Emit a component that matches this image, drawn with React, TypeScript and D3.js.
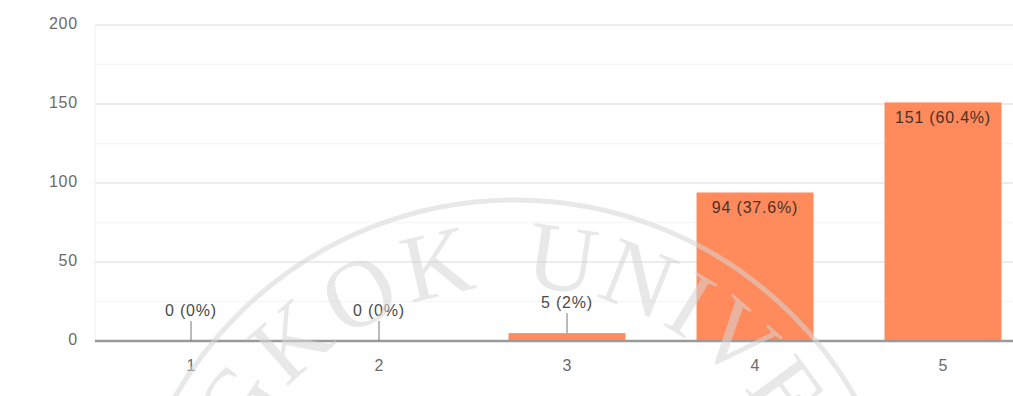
import React from "react";
import * as d3 from "d3";

// Response counts for a 1–5 rating question
const categories = ["1", "2", "3", "4", "5"];
const counts = [0, 0, 5, 94, 151];
const percentLabels = ["0%", "0%", "2%", "37.6%", "60.4%"];
const yTicks = [0, 50, 100, 150, 200];
const yMinorTicks = [25, 75, 125, 175];

const W = 1013;
const H = 396;
const FONT = "'Liberation Sans', Arial, sans-serif";
const BAR_COLOR = "#ff8a5c";

export default function App() {
  const x = d3
    .scaleBand<string>()
    .domain(categories)
    .range([97, 1037])
    .paddingInner(0.378)
    .paddingOuter(0.189);
  const y = d3.scaleLinear().domain([0, 200]).range([341, 25]);

  // watermark seal geometry
  const cx = 515;
  const cy = 592;
  const ringR = 392;
  const textR = 305;
  const wmSize = 96;
  const a0 = (-135 * Math.PI) / 180;
  const a1 = (135 * Math.PI) / 180;
  const pt = (r: number, a: number) => [cx + r * Math.sin(a), cy - r * Math.cos(a)];
  const [sx, sy] = pt(textR, a0);
  const [ex, ey] = pt(textR, a1);
  const arcPath = `M${sx},${sy} A${textR},${textR} 0 1 1 ${ex},${ey}`;
  const topOffset = (textR * 135 * Math.PI) / 180;
  const deg = (d: number) => (textR * d * Math.PI) / 180;

  const outerLabel = 20;

  return (
    <svg
      width={W}
      height={H}
      viewBox={`0 0 ${W} ${H}`}
      style={{ position: "absolute", left: 0, top: 0, background: "#fff" }}
    >
      <defs>
        <path id="wm-arc" d={arcPath} />
      </defs>
      <rect x={0} y={0} width={W} height={H} fill="#fff" />

      {/* left plot edge */}
      <line x1={95} x2={95} y1={y(200)} y2={y(0)} stroke="#f5f5f5" strokeWidth={1.5} />

      {/* minor gridlines */}
      {yMinorTicks.map((t) => (
        <line key={"m" + t} x1={95} x2={W} y1={y(t)} y2={y(t)} stroke="#f6f6f6" strokeWidth={1.5} />
      ))}
      {/* major gridlines */}
      {yTicks.filter((t) => t > 0).map((t) => (
        <line key={"g" + t} x1={95} x2={W} y1={y(t)} y2={y(t)} stroke="#ececec" strokeWidth={2} />
      ))}

      {/* y-axis labels */}
      {yTicks.map((t) => (
        <text
          key={"y" + t}
          x={78}
          y={y(t)}
          textAnchor="end"
          dominantBaseline="middle"
          fontFamily={FONT}
          fontSize={16}
          letterSpacing={0.8}
          fill="#6b6b6b"
        >
          {t}
        </text>
      ))}

      {/* bars */}
      {counts.map((v, i) => (
        <rect
          key={"b" + i}
          x={x(categories[i])!}
          y={y(v)}
          width={x.bandwidth()}
          height={y(0) - y(v)}
          fill={BAR_COLOR}
        />
      ))}

      {/* baseline */}
      <line x1={95} x2={W} y1={y(0)} y2={y(0)} stroke="#9a9a9a" strokeWidth={2.5} />

      {/* value labels */}
      {counts.map((v, i) => {
        const c = x(categories[i])! + x.bandwidth() / 2;
        const label = `${v} (${percentLabels[i]})`;
        const inside = y(0) - y(v) > 40;
        if (inside) {
          return (
            <text
              key={"l" + i}
              x={c}
              y={y(v) + 21}
              textAnchor="middle"
              fontFamily={FONT}
              fontSize={16}
              letterSpacing={0.8}
              fill="#4a3128"
            >
              {label}
            </text>
          );
        }
        const top = y(v);
        return (
          <g key={"l" + i}>
            <line x1={c} x2={c} y1={top - outerLabel} y2={top} stroke="#777" strokeWidth={1} />
            <text
              x={c}
              y={top - outerLabel - 5}
              textAnchor="middle"
              fontFamily={FONT}
              fontSize={16}
              letterSpacing={0.8}
              fill="#4a4a4a"
            >
              {label}
            </text>
          </g>
        );
      })}

      {/* x-axis labels */}
      {categories.map((c) => (
        <text
          key={"x" + c}
          x={x(c)! + x.bandwidth() / 2}
          y={367}
          textAnchor="middle"
          dominantBaseline="middle"
          fontFamily={FONT}
          fontSize={16}
          fill="#6b6b6b"
        >
          {c}
        </text>
      ))}

      {/* watermark seal */}
      <g opacity={0.55} pointerEvents="none">
        <circle cx={cx} cy={cy} r={ringR} fill="none" stroke="#d6d6d6" strokeWidth={5} />
        <text fontFamily="'Liberation Serif', 'DejaVu Serif', serif" fontSize={wmSize} fill="#d6d6d6">
          <textPath
            href="#wm-arc"
            startOffset={topOffset - deg(7) + 6}
            textAnchor="end"
            letterSpacing={6}
          >
            BANGKOK
          </textPath>
        </text>
        <text fontFamily="'Liberation Serif', 'DejaVu Serif', serif" fontSize={wmSize} fill="#d6d6d6">
          <textPath
            href="#wm-arc"
            startOffset={topOffset + deg(1.5)}
            textAnchor="start"
            letterSpacing={2}
          >
            UNIVERSITY
          </textPath>
        </text>
      </g>
    </svg>
  );
}
